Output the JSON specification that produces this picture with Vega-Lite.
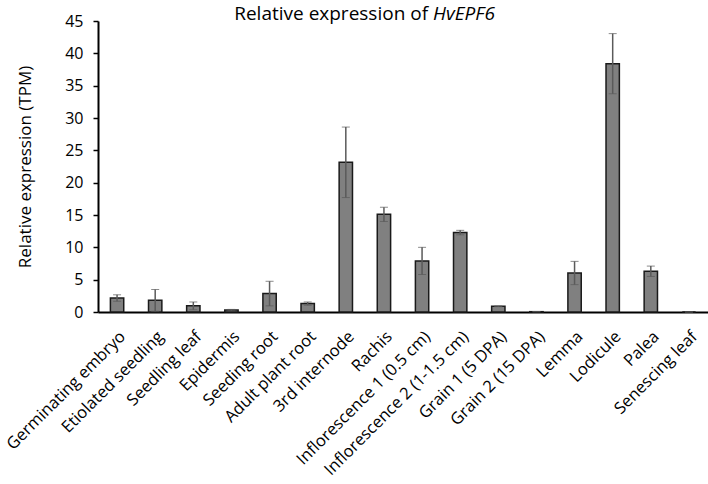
{
  "$schema": "https://vega.github.io/schema/vega-lite/v6.json",
  "width": 610,
  "height": 291,
  "autosize": {"type": "none"},
  "padding": {"left": 98, "top": 21, "right": 0, "bottom": 172},
  "background": "white",
  "config": {
    "view": {"stroke": null},
    "font": "Open Sans",
    "axis": {"labelColor": "black", "titleColor": "black", "labelFont": "Open Sans", "titleFont": "Open Sans"}
  },
  "resolve": {"axis": {"y": "independent"}},
  "encoding": {
    "x": {
      "field": "tissue",
      "type": "nominal",
      "sort": null,
      "scale": {"paddingInner": 0.65, "paddingOuter": 0.325},
      "axis": {
        "title": null,
        "labelAngle": -45,
        "labelFontSize": 16.5,
        "labelPadding": 16,
        "ticks": false,
        "domainColor": "black",
        "domainWidth": 2,
        "labelLimit": 300
      }
    }
  },
  "layer": [
    {
      "data": {
        "values": [
          {"tissue": "Germinating embryo", "tpm": 2.16, "sd": 0.5},
          {"tissue": "Etiolated seedling", "tpm": 1.8, "sd": 1.68},
          {"tissue": "Seedling leaf", "tpm": 0.95, "sd": 0.6},
          {"tissue": "Epidermis", "tpm": 0.3, "sd": 0.1},
          {"tissue": "Seeding root", "tpm": 2.85, "sd": 1.9},
          {"tissue": "Adult plant root", "tpm": 1.3, "sd": 0.25},
          {"tissue": "3rd internode", "tpm": 23.15, "sd": 5.45},
          {"tissue": "Rachis", "tpm": 15.1, "sd": 1.1},
          {"tissue": "Inflorescence 1 (0.5 cm)", "tpm": 7.9, "sd": 2.1},
          {"tissue": "Inflorescence 2 (1-1.5 cm)", "tpm": 12.28, "sd": 0.35},
          {"tissue": "Grain 1 (5 DPA)", "tpm": 0.88, "sd": 0.05},
          {"tissue": "Grain 2 (15 DPA)", "tpm": 0.05, "sd": 0},
          {"tissue": "Lemma", "tpm": 6.03, "sd": 1.8},
          {"tissue": "Lodicule", "tpm": 38.4, "sd": 4.65},
          {"tissue": "Palea", "tpm": 6.3, "sd": 0.8},
          {"tissue": "Senescing leaf", "tpm": 0, "sd": 0}
        ]
      },
      "encoding": {
        "y": {
          "field": "tpm",
          "type": "quantitative",
          "scale": {"domain": [0, 45], "nice": false},
          "axis": {
            "title": "Relative expression (TPM)",
            "titleFontSize": 17,
            "titleFontWeight": "normal",
            "titlePadding": 30,
            "labelFontSize": 16,
            "values": [0, 5, 10, 15, 20, 25, 30, 35, 40, 45],
            "grid": false,
            "tickSize": 5,
            "tickColor": "black",
            "tickWidth": 1.5,
            "labelPadding": 10,
            "domainColor": "black",
            "domainWidth": 2
          }
        }
      },
      "layer": [
        {
          "mark": {"type": "bar", "fill": "#808080", "stroke": "#1a1a1a", "strokeWidth": 1.5}
        },
        {
          "mark": {"type": "errorbar", "ticks": {"size": 8, "color": "#5a5a5a", "strokeWidth": 1.5}, "rule": {"color": "#5a5a5a", "strokeWidth": 1.5}},
          "encoding": {"yError": {"field": "sd"}}
        }
      ]
    },
    {
      "data": {"values": [{"plain": "Relative expression of", "gene": "HvEPF6", "anchor": "Inflorescence 1 (0.5 cm)", "level": 46.15}]},
      "encoding": {
        "x": {"field": "anchor", "type": "nominal"},
        "y": {"field": "level", "type": "quantitative", "axis": null}
      },
      "layer": [
        {
          "mark": {"type": "text", "align": "right", "baseline": "middle", "fontSize": 19, "dx": 6, "clip": false, "color": "black"},
          "encoding": {"text": {"field": "plain"}}
        },
        {
          "mark": {"type": "text", "align": "left", "baseline": "middle", "fontSize": 19, "fontStyle": "italic", "dx": 11, "clip": false, "color": "black"},
          "encoding": {"text": {"field": "gene"}}
        }
      ]
    }
  ]
}
